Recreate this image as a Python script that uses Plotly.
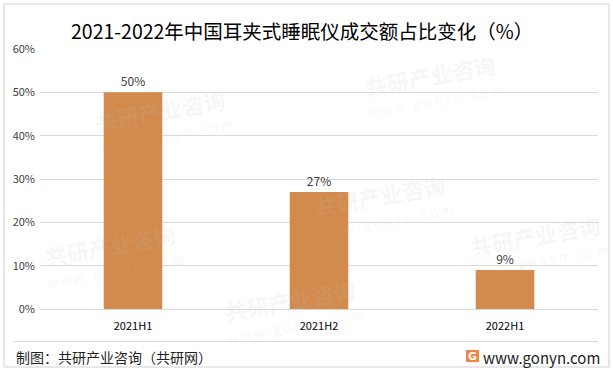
import plotly.graph_objects as go

categories = ["2021H1", "2021H2", "2022H1"]
values = [50, 27, 9]
value_labels = ["50%", "27%", "9%"]
y_ticks = [0, 10, 20, 30, 40, 50, 60]
y_tick_labels = ["0%", "10%", "20%", "30%", "40%", "50%", "60%"]

title_text = "2021-2022年中国耳夹式睡眠仪成交额占比变化（%）"
source_text = "制图：共研产业咨询（共研网）"
site_text = "www.gonyn.com"

W, H = 613, 371
L, R, T, B = 40, 15, 49, 62
PW, PH = W - L - R, H - T - B

def px(x):
    return (x - L) / PW

def py(y):
    return (H - B - y) / PH

FONT = "Noto Sans CJK SC, Microsoft YaHei, sans-serif"

fig = go.Figure()
fig.add_trace(go.Bar(
    x=categories, y=values,
    marker=dict(color="#D38B4D", line=dict(width=0)),
    text=value_labels, textposition="outside",
    textfont=dict(size=12, color="#404040", family=FONT),
    cliponaxis=False, width=0.315,
))

annotations = []
# faint watermarks (kept inside the frame)
wm_positions = [(160, 110), (430, 75), (110, 245), (380, 195), (535, 235), (290, 300)]
for (x, y) in wm_positions:
    annotations.append(dict(x=px(x), y=py(y), xref="paper", yref="paper",
                            xanchor="center", yanchor="middle",
                            text="<b>共研产业咨询</b>", showarrow=False, textangle=-10,
                            font=dict(size=22, color="rgba(190,190,190,0.13)", family=FONT)))
    annotations.append(dict(x=px(x + 5), y=py(y + 25), xref="paper", yref="paper",
                            xanchor="center", yanchor="middle",
                            text="w w w . g o n y n . c o m", showarrow=False, textangle=-10,
                            font=dict(size=13, color="rgba(190,190,190,0.13)", family=FONT)))

annotations += [
    dict(x=px(302), y=py(30), xref="paper", yref="paper", xanchor="center", yanchor="middle",
         text=title_text, showarrow=False, font=dict(size=19.5, color="#000000", family=FONT)),
    dict(x=px(14), y=py(357), xref="paper", yref="paper", xanchor="left", yanchor="middle",
         text=source_text, showarrow=False, font=dict(size=14, color="#222222", family=FONT)),
    dict(x=px(602), y=py(357), xref="paper", yref="paper", xanchor="right", yanchor="middle",
         text=site_text, showarrow=False, font=dict(size=15, color="#222222", family=FONT)),
    dict(x=px(472.5), y=py(356), xref="paper", yref="paper", xanchor="center", yanchor="middle",
         text="<b>G</b>", showarrow=False, font=dict(size=11, color="#ffffff", family="DejaVu Sans")),
]

shapes = [
    dict(type="rect", xref="paper", yref="paper", x0=px(4), x1=px(609), y0=py(4), y1=py(367),
         line=dict(color="#d0d0d0", width=1), fillcolor="rgba(0,0,0,0)"),
    dict(type="line", xref="paper", yref="paper", x0=px(14), x1=px(598), y0=py(341.5), y1=py(341.5),
         line=dict(color="#d9d9d9", width=1)),
    dict(type="rect", xref="paper", yref="paper", x0=px(466), x1=px(479), y0=py(350), y1=py(362),
         line=dict(width=0), fillcolor="#F0854A"),
]

fig.update_layout(
    width=W, height=H,
    margin=dict(l=L, r=R, t=T, b=B),
    paper_bgcolor="white", plot_bgcolor="white",
    showlegend=False,
    annotations=annotations, shapes=shapes,
    xaxis=dict(showgrid=False, showline=True, linecolor="#d9d9d9", linewidth=1,
               ticks="", ticklabelstandoff=7,
               tickfont=dict(size=11, color="#000000", family=FONT),
               fixedrange=True),
    yaxis=dict(range=[0, 60], tickvals=y_ticks, ticktext=y_tick_labels,
               showgrid=True, gridcolor="#d9d9d9", gridwidth=1, zeroline=False,
               showline=False, ticks="", ticklabelstandoff=4,
               tickfont=dict(size=11, color="#404040", family=FONT), fixedrange=True),
)
fig.write_html("out.html", config={"displayModeBar": False},
               post_script="document.body.style.margin='0';")
